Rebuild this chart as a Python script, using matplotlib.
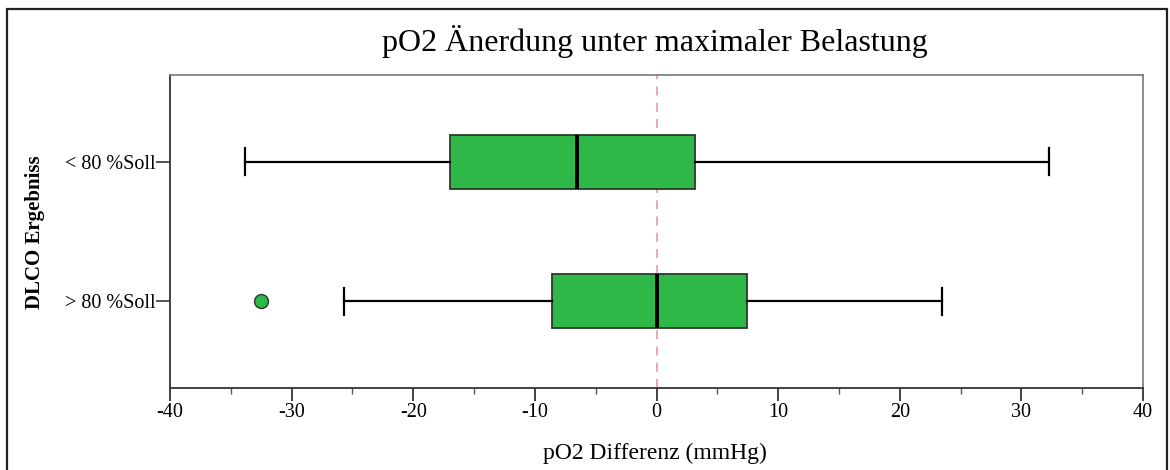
import matplotlib
matplotlib.use('Agg')
import matplotlib.pyplot as plt
from matplotlib.patches import Rectangle
from matplotlib.ticker import MultipleLocator

plt.rcParams['font.family'] = ['Liberation Serif', 'DejaVu Serif']
plt.rcParams['axes.unicode_minus'] = False

groups = ['> 80 %Soll', '< 80 %Soll']
q1 = [-8.6, -17.0]
med = [0.0, -6.5]
q3 = [7.4, 3.2]
whislo = [-25.7, -33.8]
whishi = [23.5, 32.3]
fliers = [[-32.5], []]

stats = []
for i, g in enumerate(groups):
    stats.append(dict(label=g, q1=q1[i], med=med[i], q3=q3[i],
                      whislo=whislo[i], whishi=whishi[i], fliers=fliers[i]))

fig = plt.figure(figsize=(11.7, 4.7), dpi=100)
ax = fig.add_axes([170 / 1170, 1 - 388 / 470, 973 / 1170, 313 / 470])

ax.axvline(0, color='#e8a3ab', linestyle=(0, (5, 4)), linewidth=1.3, zorder=1)

ax.bxp(stats, positions=[1, 2], vert=False, widths=0.385, patch_artist=True,
       boxprops=dict(facecolor='#2eb848', edgecolor='#2a3a2a', linewidth=1.3),
       medianprops=dict(color='black', linewidth=2.8),
       whiskerprops=dict(color='black', linewidth=1.6),
       capprops=dict(color='black', linewidth=1.6),
       capwidths=0.19,
       flierprops=dict(marker='o', markerfacecolor='#2eb848', markeredgecolor='#2a3a2a',
                       markersize=10, markeredgewidth=1.0),
       zorder=2)

ax.set_xlim(-40, 40)
ax.set_ylim(0.38, 2.62)
ax.xaxis.set_major_locator(MultipleLocator(10))
ax.xaxis.set_minor_locator(MultipleLocator(5))
ax.tick_params(axis='x', which='major', length=9, width=1.3, pad=2, labelsize=14.5, color='#333333')
ax.tick_params(axis='x', which='minor', length=4.5, width=1.0, color='#555555')
ax.tick_params(axis='y', length=10, width=1.2, pad=0, labelsize=14.5, color='#333333')
ax.set_yticks([1, 2])
ax.set_yticklabels(groups)

for side in ['left', 'bottom']:
    ax.spines[side].set_color('#333333')
    ax.spines[side].set_linewidth(1.3)
for side in ['top', 'right']:
    ax.spines[side].set_color('#777777')
    ax.spines[side].set_linewidth(1.2)

fig.text(655 / 1170, 1 - 42 / 470, 'pO2 Änerdung unter maximaler Belastung',
         ha='center', va='center', fontsize=23)
fig.text(655 / 1170, 1 - 453 / 470, 'pO2 Differenz (mmHg)',
         ha='center', va='center', fontsize=17)
fig.text(35 / 1170, 1 - 232 / 470, 'DLCO Ergebniss', rotation=90,
         ha='center', va='center', fontsize=15, fontweight='bold')

fig.patches.append(Rectangle((7 / 1170, -0.02), 1160 / 1170, 1.02 - 9 / 470,
                             transform=fig.transFigure, fill=False,
                             edgecolor='#222222', linewidth=1.6))

fig.savefig('out.png', dpi=100)
